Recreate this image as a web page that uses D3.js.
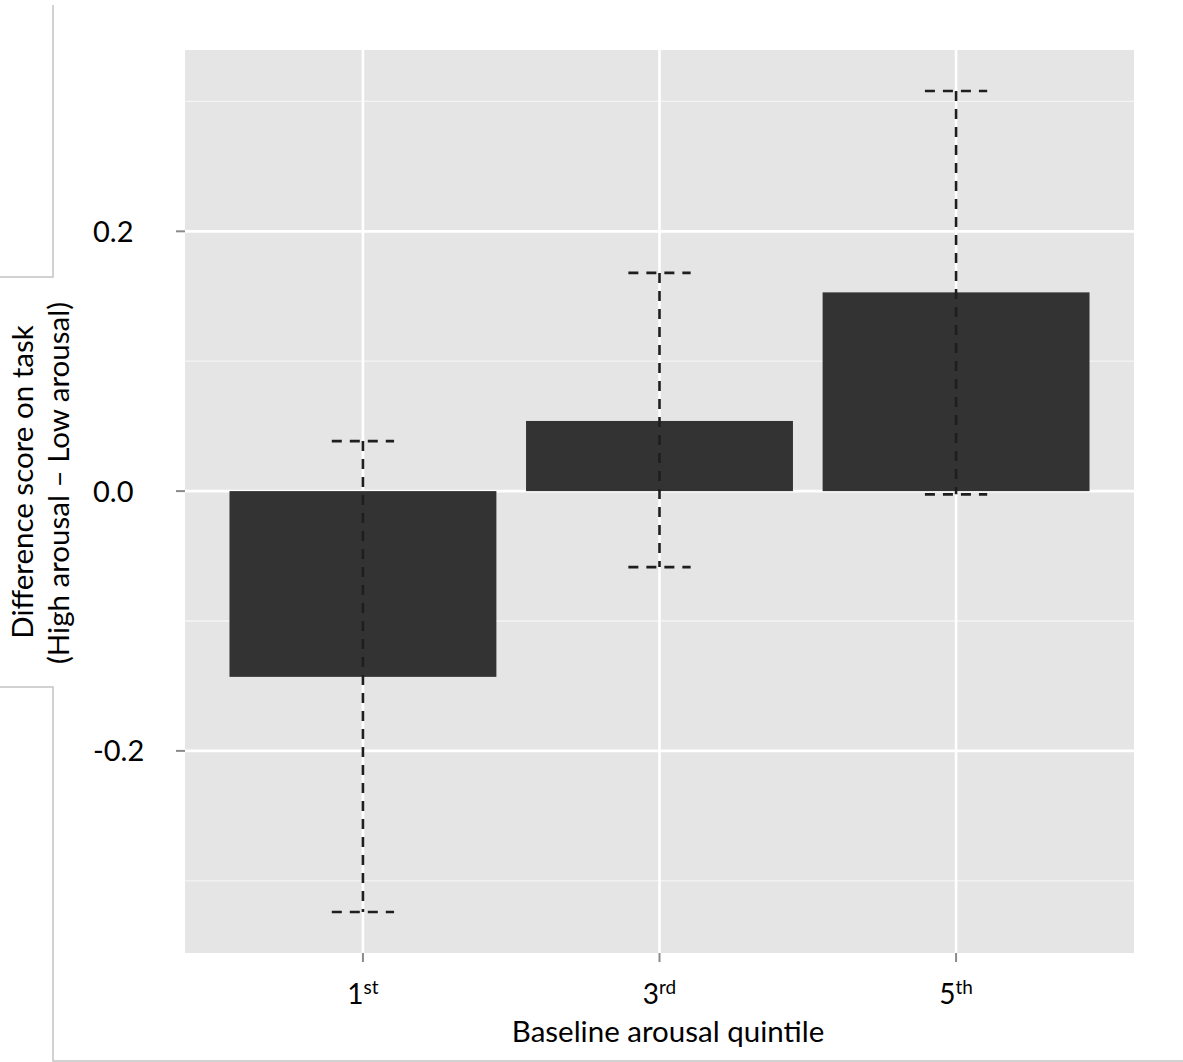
<!DOCTYPE html>
<html><head><meta charset="utf-8">
<script src="https://cdn.jsdelivr.net/npm/d3@7"></script>
<style>body{margin:0;background:#fff} text{font-family:Lato,"Open Sans",sans-serif;fill:#000}</style>
</head><body><svg id="c" width="1183" height="1062"></svg>
<script>
const categories = ["1st", "3rd", "5th"];
const ordinals = ["1", "3", "5"];
const suffixes = ["st", "rd", "th"];
const means = [-0.143, 0.054, 0.153];
const lower = [-0.324, -0.0585, -0.0025];
const upper = [0.0385, 0.168, 0.308];
const yMajorTicks = [-0.2, 0.0, 0.2];
const yMinorTicks = [-0.3, -0.1, 0.1, 0.3];
const xTitle = "Baseline arousal quintile";
const yTitle = ["Difference score on task", "(High arousal \u2013 Low arousal)"];

const svg = d3.select("#c");
const P = {l: 185, r: 1134, t: 50, b: 953};

// frame lines
svg.append("path").attr("d", "M53,5V277H0M0,687H53V1061H1183")
  .attr("fill", "none").attr("stroke", "#c4c4c4").attr("stroke-width", 1.5);

const lo = d3.min(lower), hi = d3.max(upper), pad = (hi - lo) * 0.05;
const y = d3.scaleLinear().domain([lo - pad, hi + pad]).range([P.b, P.t]);
const x = d3.scalePoint().domain(categories).range([P.l, P.r]).padding(0.6);
const step = x.step();

svg.append("rect").attr("x", P.l).attr("y", P.t).attr("width", P.r - P.l).attr("height", P.b - P.t).attr("fill", "#e5e5e5");

const g = svg.append("g");
g.selectAll(".minor").data(yMinorTicks).join("line")
  .attr("x1", P.l).attr("x2", P.r).attr("y1", d => y(d)).attr("y2", d => y(d))
  .attr("stroke", "#f4f4f4").attr("stroke-width", 1.3);
g.selectAll(".major").data(yMajorTicks).join("line")
  .attr("x1", P.l).attr("x2", P.r).attr("y1", d => y(d)).attr("y2", d => y(d))
  .attr("stroke", "#fff").attr("stroke-width", 2.6);
g.selectAll(".vmajor").data(categories).join("line")
  .attr("x1", d => x(d)).attr("x2", d => x(d)).attr("y1", P.t).attr("y2", P.b)
  .attr("stroke", "#fff").attr("stroke-width", 2.6);

// bars
svg.selectAll(".bar").data(categories).join("rect")
  .attr("x", d => x(d) - step * 0.45).attr("width", step * 0.9)
  .attr("y", (d, i) => Math.min(y(means[i]), y(0)))
  .attr("height", (d, i) => Math.abs(y(means[i]) - y(0)))
  .attr("fill", "#333333");

// error bars (dashed)
const eb = svg.append("g").attr("stroke", "#1e1e1e").attr("stroke-width", 2.6)
  .attr("stroke-dasharray", "10,8").attr("fill", "none");
const hw = step * 0.105;
categories.forEach((c, i) => {
  const cx = x(c);
  eb.append("line").attr("x1", cx - hw).attr("x2", cx + hw).attr("y1", y(upper[i])).attr("y2", y(upper[i]));
  eb.append("line").attr("x1", cx).attr("x2", cx).attr("y1", y(upper[i])).attr("y2", y(lower[i]));
  eb.append("line").attr("x1", cx - hw).attr("x2", cx + hw).attr("y1", y(lower[i])).attr("y2", y(lower[i]));
});

// y axis ticks and labels
svg.selectAll(".yt").data(yMajorTicks).join("line")
  .attr("x1", P.l - 9).attr("x2", P.l).attr("y1", d => y(d)).attr("y2", d => y(d))
  .attr("stroke", "#8a8a8a").attr("stroke-width", 2);
const fmt = d => d3.format(".1f")(d).replace("\u2212", "-");
svg.selectAll(".yl").data(yMajorTicks).join("text")
  .attr("x", 93).attr("y", d => y(d) + 10.5).attr("font-size", 29).text(fmt);

// x axis ticks and labels
svg.selectAll(".xt").data(categories).join("line")
  .attr("x1", d => x(d)).attr("x2", d => x(d)).attr("y1", P.b).attr("y2", P.b + 9)
  .attr("stroke", "#8a8a8a").attr("stroke-width", 2);
const xl = svg.selectAll(".xl").data(categories).join("text")
  .attr("x", d => x(d)).attr("y", 1004).attr("text-anchor", "middle").attr("font-size", 28);
xl.append("tspan").text((d, i) => ordinals[i]);
xl.append("tspan").attr("dy", -10).attr("font-size", 19).text((d, i) => suffixes[i]);

// titles
svg.append("text").attr("x", 668).attr("y", 1042).attr("text-anchor", "middle")
  .attr("font-size", 29.5).text(xTitle);
svg.append("text").attr("transform", "translate(33,482) rotate(-90)").attr("text-anchor", "middle")
  .attr("font-size", 29.5).text(yTitle[0]);
svg.append("text").attr("transform", "translate(69,483) rotate(-90)").attr("text-anchor", "middle")
  .attr("font-size", 29.5).text(yTitle[1]);
</script></body></html>
